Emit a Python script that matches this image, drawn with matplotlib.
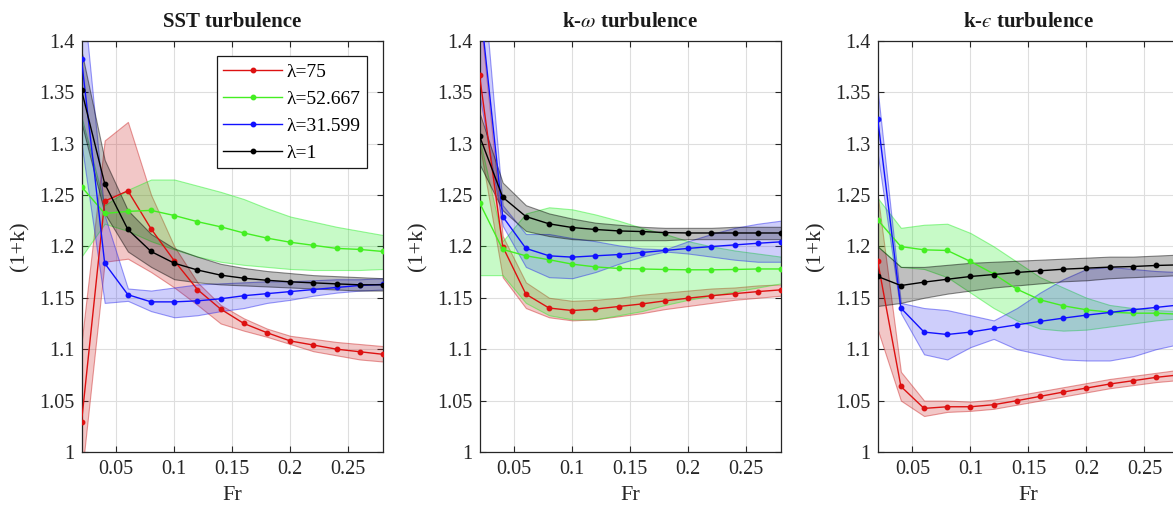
import numpy as np
import matplotlib
matplotlib.use("Agg")
import matplotlib.pyplot as plt

plt.rcParams['font.family'] = ['Liberation Serif', 'DejaVu Serif']
plt.rcParams['mathtext.fontset'] = 'stix'

fr = [0.02, 0.04, 0.06, 0.08, 0.10, 0.12, 0.14, 0.16, 0.18, 0.20, 0.22, 0.24, 0.26, 0.28]

titles = ['SST turbulence', r'k-$\omega$ turbulence', 'k-$\u03f5$ turbulence']
labels = ['\u03bb=75', '\u03bb=52.667', '\u03bb=31.599', '\u03bb=1']
yticks = [1.0, 1.05, 1.1, 1.15, 1.2, 1.25, 1.3, 1.35, 1.4]
ytick_labels = ['1', '1.05', '1.1', '1.15', '1.2', '1.25', '1.3', '1.35', '1.4']
xticks = [0.05, 0.1, 0.15, 0.2, 0.25]
xtick_labels = ['0.05', '0.1', '0.15', '0.2', '0.25']

# ---- SST ----
sst_l75 = [1.029, 1.244, 1.254, 1.217, 1.186, 1.158, 1.139, 1.125, 1.116, 1.108, 1.104, 1.100, 1.0975, 1.095]
sst_l75_lo = [0.975, 1.185, 1.188, 1.175, 1.160, 1.143, 1.125, 1.118, 1.112, 1.105, 1.098, 1.094, 1.090, 1.088]
sst_l75_hi = [1.106, 1.303, 1.321, 1.250, 1.200, 1.165, 1.143, 1.130, 1.120, 1.113, 1.110, 1.107, 1.105, 1.103]
sst_l52 = [1.258, 1.232, 1.234, 1.235, 1.230, 1.224, 1.219, 1.213, 1.208, 1.204, 1.201, 1.198, 1.197, 1.195]
sst_l52_lo = [1.190, 1.222, 1.215, 1.205, 1.197, 1.190, 1.185, 1.182, 1.180, 1.178, 1.177, 1.177, 1.177, 1.178]
sst_l52_hi = [1.326, 1.240, 1.255, 1.265, 1.265, 1.259, 1.253, 1.246, 1.237, 1.229, 1.224, 1.219, 1.215, 1.211]
sst_l31 = [1.382, 1.1835, 1.153, 1.146, 1.146, 1.147, 1.149, 1.152, 1.154, 1.156, 1.158, 1.160, 1.162, 1.163]
sst_l31_lo = [1.300, 1.145, 1.147, 1.137, 1.131, 1.133, 1.137, 1.140, 1.145, 1.148, 1.152, 1.155, 1.157, 1.158]
sst_l31_hi = [1.460, 1.230, 1.159, 1.157, 1.160, 1.163, 1.164, 1.165, 1.166, 1.166, 1.167, 1.168, 1.168, 1.169]
sst_l1 = [1.352, 1.261, 1.2164, 1.195, 1.1836, 1.177, 1.172, 1.169, 1.167, 1.1655, 1.1645, 1.1635, 1.1626, 1.1626]
sst_l1_lo = [1.320, 1.232, 1.195, 1.180, 1.168, 1.165, 1.163, 1.162, 1.161, 1.160, 1.159, 1.158, 1.157, 1.157]
sst_l1_hi = [1.390, 1.284, 1.235, 1.212, 1.198, 1.190, 1.183, 1.179, 1.176, 1.174, 1.172, 1.171, 1.170, 1.169]

# ---- k-omega ----
kw_l75 = [1.3666, 1.1998, 1.1535, 1.140, 1.1376, 1.139, 1.1415, 1.144, 1.147, 1.1496, 1.152, 1.154, 1.156, 1.1577]
kw_l75_lo = [1.300, 1.170, 1.140, 1.131, 1.128, 1.129, 1.132, 1.135, 1.139, 1.142, 1.145, 1.148, 1.150, 1.152]
kw_l75_hi = [1.430, 1.210, 1.165, 1.150, 1.147, 1.148, 1.150, 1.153, 1.155, 1.157, 1.159, 1.160, 1.162, 1.163]
kw_l52 = [1.2426, 1.197, 1.1908, 1.187, 1.1827, 1.180, 1.1785, 1.178, 1.1775, 1.1772, 1.1772, 1.1775, 1.178, 1.178]
kw_l52_lo = [1.172, 1.172, 1.145, 1.133, 1.129, 1.129, 1.133, 1.137, 1.143, 1.148, 1.152, 1.156, 1.160, 1.164]
kw_l52_hi = [1.305, 1.205, 1.232, 1.238, 1.236, 1.231, 1.225, 1.218, 1.212, 1.205, 1.200, 1.196, 1.193, 1.190]
kw_l31 = [1.440, 1.229, 1.198, 1.1908, 1.1895, 1.1908, 1.192, 1.194, 1.196, 1.198, 1.1998, 1.2014, 1.203, 1.2044]
kw_l31_lo = [1.347, 1.220, 1.180, 1.170, 1.169, 1.175, 1.183, 1.190, 1.195, 1.193, 1.190, 1.187, 1.185, 1.185]
kw_l31_hi = [1.500, 1.240, 1.212, 1.212, 1.208, 1.205, 1.201, 1.198, 1.197, 1.205, 1.212, 1.218, 1.222, 1.225]
kw_l1 = [1.3074, 1.2478, 1.229, 1.2219, 1.2183, 1.2164, 1.215, 1.2144, 1.2134, 1.213, 1.213, 1.213, 1.213, 1.213]
kw_l1_lo = [1.280, 1.235, 1.215, 1.210, 1.207, 1.206, 1.206, 1.206, 1.206, 1.207, 1.207, 1.207, 1.207, 1.207]
kw_l1_hi = [1.330, 1.262, 1.240, 1.232, 1.227, 1.223, 1.221, 1.219, 1.218, 1.218, 1.218, 1.219, 1.219, 1.219]

# ---- k-epsilon ----
ke_l75 = [1.1853, 1.0638, 1.0424, 1.044, 1.044, 1.046, 1.0499, 1.0541, 1.0583, 1.0622, 1.0661, 1.0693, 1.0726, 1.075]
ke_l75_lo = [1.119, 1.050, 1.035, 1.039, 1.040, 1.042, 1.046, 1.050, 1.054, 1.058, 1.062, 1.065, 1.068, 1.070]
ke_l75_hi = [1.250, 1.078, 1.050, 1.050, 1.049, 1.051, 1.055, 1.059, 1.063, 1.067, 1.071, 1.074, 1.077, 1.080]
ke_l52 = [1.2257, 1.1998, 1.1966, 1.196, 1.1853, 1.1733, 1.1584, 1.148, 1.1422, 1.1383, 1.136, 1.135, 1.135, 1.134]
ke_l52_lo = [1.200, 1.180, 1.178, 1.170, 1.155, 1.140, 1.128, 1.120, 1.118, 1.119, 1.122, 1.125, 1.128, 1.130]
ke_l52_hi = [1.247, 1.218, 1.221, 1.222, 1.213, 1.200, 1.185, 1.170, 1.160, 1.150, 1.143, 1.140, 1.138, 1.137]
ke_l31 = [1.3242, 1.140, 1.1166, 1.1143, 1.1166, 1.1202, 1.1237, 1.127, 1.1302, 1.1331, 1.1357, 1.1383, 1.1406, 1.143]
ke_l31_lo = [1.290, 1.135, 1.095, 1.090, 1.102, 1.110, 1.100, 1.095, 1.090, 1.089, 1.089, 1.093, 1.100, 1.105]
ke_l31_hi = [1.352, 1.145, 1.140, 1.138, 1.133, 1.128, 1.140, 1.155, 1.168, 1.178, 1.180, 1.178, 1.176, 1.175]
ke_l1 = [1.1707, 1.1619, 1.1652, 1.168, 1.1707, 1.1726, 1.1746, 1.1762, 1.1778, 1.1788, 1.1798, 1.1804, 1.1814, 1.182]
ke_l1_lo = [1.142, 1.145, 1.150, 1.154, 1.157, 1.160, 1.162, 1.164, 1.166, 1.167, 1.169, 1.170, 1.171, 1.172]
ke_l1_hi = [1.200, 1.180, 1.180, 1.182, 1.184, 1.185, 1.186, 1.187, 1.188, 1.189, 1.190, 1.190, 1.191, 1.192]

panels = [
    [(sst_l75, sst_l75_lo, sst_l75_hi), (sst_l52, sst_l52_lo, sst_l52_hi),
     (sst_l31, sst_l31_lo, sst_l31_hi), (sst_l1, sst_l1_lo, sst_l1_hi)],
    [(kw_l75, kw_l75_lo, kw_l75_hi), (kw_l52, kw_l52_lo, kw_l52_hi),
     (kw_l31, kw_l31_lo, kw_l31_hi), (kw_l1, kw_l1_lo, kw_l1_hi)],
    [(ke_l75, ke_l75_lo, ke_l75_hi), (ke_l52, ke_l52_lo, ke_l52_hi),
     (ke_l31, ke_l31_lo, ke_l31_hi), (ke_l1, ke_l1_lo, ke_l1_hi)],
]

line_colors = ['#dd1111', '#44ee22', '#1111ff', '#000000']
fill_colors = ['#cc2222', '#22ee22', '#2222ee', '#000000']
fill_alpha = [0.25, 0.25, 0.22, 0.25]

W, H = 1173, 508
fig = plt.figure(figsize=(W / 100, H / 100), dpi=100)

lefts_px = [81.5, 479.5, 877.7]
ax_w_px = 301.5
top_px, bottom_px = 40.7, 452.0

for i, (left, series) in enumerate(zip(lefts_px, panels)):
    ax = fig.add_axes([left / W, 1 - bottom_px / H, ax_w_px / W, (bottom_px - top_px) / H])
    for (y, lo, hi), lc, fc, fa in zip(series, line_colors, fill_colors, fill_alpha):
        ax.fill_between(fr, lo, hi, facecolor=matplotlib.colors.to_rgba(fc, fa),
                        edgecolor=matplotlib.colors.to_rgba(fc, 0.45), linewidth=0.8, zorder=2)
    handles = []
    for (y, lo, hi), lc, lab in zip(series, line_colors, labels):
        h, = ax.plot(fr, y, color=lc, lw=1.0, marker='o', ms=3.2, label=lab, zorder=3)
        handles.append(h)
    ax.set_xlim(0.02, 0.28)
    ax.set_ylim(1.0, 1.4)
    ax.set_xticks(xticks)
    ax.set_xticklabels(xtick_labels)
    ax.set_yticks(yticks)
    ax.set_yticklabels(ytick_labels)
    ax.grid(True, color='#dedede', lw=0.8, zorder=0)
    ax.set_axisbelow(True)
    ax.tick_params(direction='in', top=True, right=True, length=4, width=0.8,
                   labelsize=14.5, colors='#262626', pad=6)
    ax.tick_params(axis='y', pad=5)
    for sp in ax.spines.values():
        sp.set_color('#262626')
        sp.set_linewidth(0.9)
    ax.set_xlabel('Fr', fontsize=16, color='#262626', labelpad=5)
    ax.set_ylabel('(1+k)', fontsize=16, color='#262626', labelpad=7)
    ax.set_title(titles[i], fontsize=15, fontweight='bold', color='#1a1a1a', pad=10)
    if i == 0:
        leg = ax.legend(handles=handles, loc='upper right', fontsize=14, numpoints=1,
                        handlelength=3.0, handletextpad=0.25, labelspacing=0.48,
                        borderpad=0.35, borderaxespad=0.8, fancybox=False, framealpha=1)
        leg.get_frame().set_edgecolor('#1a1a1a')
        leg.get_frame().set_linewidth(0.9)

fig.savefig('out.png', dpi=100)
